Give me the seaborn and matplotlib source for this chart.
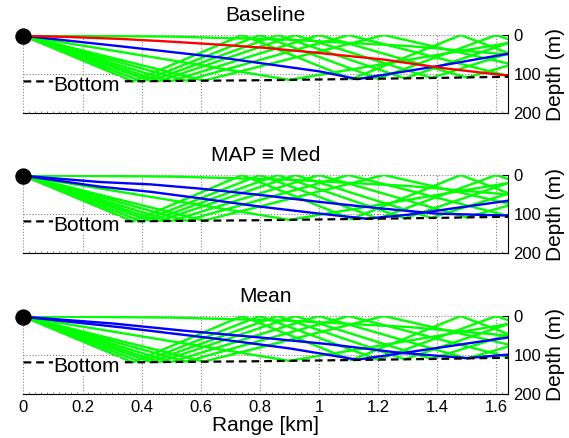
import numpy as np
import pandas as pd
import matplotlib
matplotlib.use("Agg")
import matplotlib.pyplot as plt
from matplotlib.ticker import MultipleLocator, FormatStrFormatter
import seaborn as sns

sns.set_theme(style="white")
plt.rcParams["font.family"] = ["Liberation Sans", "DejaVu Sans"]
plt.rcParams["text.color"] = "black"
plt.rcParams["axes.labelcolor"] = "black"
plt.rcParams["xtick.color"] = "black"
plt.rcParams["ytick.color"] = "black"

# data (range in km, depth in m)
panel_titles = ["Baseline", "MAP \u2261 Med", "Mean"]
range_ticks = [0, 0.2, 0.4, 0.6, 0.8, 1.0, 1.2, 1.4, 1.6]
depth_ticks = [0, 100, 200]

bottom_range = [0, 0.4, 0.8, 1.0, 1.2, 1.4, 1.64]
bottom_depth = [119, 118.5, 116, 114, 112, 110, 107]

source_range = [0]
source_depth = [4]

# green rays: turning points of each ray
green_ranges = [
    [0, 0.37, 0.74, 1.11, 1.48, 1.85],
    [0, 0.40, 0.80, 1.20, 1.60, 2.00],
    [0, 0.43, 0.86, 1.29, 1.72],
    [0, 0.46, 0.92, 1.38, 1.84],
    [0, 0.50, 1.00, 1.50, 2.00],
    [0, 0.55, 1.10, 1.65],
    [0, 0.61, 1.22, 1.83],
    [0, 0.90, 1.80],
    [0, 0.5, 0.9, 1.3, 1.64],
]
green_depths = [
    [2, 119, 0, 113, 0, 107],
    [2, 119, 0, 112, 0, 106],
    [2, 118, 0, 111, 0],
    [2, 118, 0, 110, 0],
    [2, 118, 0, 109, 0],
    [2, 117, 0, 107],
    [2, 117, 0, 106],
    [2, 115, 0],
    [1, 4, 12, 28, 50],
]

red_ranges = [[0, 0.15, 0.33, 0.5, 0.67, 0.82, 1.0, 1.22, 1.42, 1.64]]
red_depths = [[2, 5, 10, 17, 25, 33, 46, 63, 85, 104]]

blue_ranges_baseline = [[0, 0.33, 0.67, 0.82, 1.0, 1.13, 1.4, 1.64]]
blue_depths_baseline = [[2, 29, 58, 74, 93, 113, 80, 48]]

blue_ranges_map = [
    [0, 0.26, 0.43, 0.6, 0.8, 0.99, 1.2, 1.4, 1.64],
    [0, 0.26, 0.43, 0.6, 0.8, 0.99, 1.16, 1.3, 1.45, 1.64],
]
blue_depths_map = [
    [2, 18, 24, 35, 51, 68, 85, 99, 104],
    [2, 30, 43, 60, 81, 98, 112, 102, 86, 66],
]

blue_ranges_mean = [
    [0, 0.3, 0.535, 0.8, 1.03, 1.27, 1.5, 1.64],
    [0, 0.33, 0.66, 0.9, 1.13, 1.4, 1.64],
]
blue_depths_mean = [
    [2, 19, 37, 55, 72, 94, 108, 99],
    [2, 29, 59, 83, 112, 82, 55],
]

panels = [
    (blue_ranges_baseline, blue_depths_baseline, red_ranges, red_depths),
    (blue_ranges_map, blue_depths_map, [], []),
    (blue_ranges_mean, blue_depths_mean, [], []),
]


def rays_frame(ranges, depths):
    rows = []
    for i, (xs, ds) in enumerate(zip(ranges, depths)):
        for x, d in zip(xs, ds):
            rows.append({"ray": i, "range": x, "depth": d})
    return pd.DataFrame(rows, columns=["ray", "range", "depth"])


fig = plt.figure(figsize=(5.69, 4.38), dpi=100)
bottoms = [0.742, 0.4224, 0.1005]
axes = [fig.add_axes([0.0413, b, 0.8515, 0.178]) for b in bottoms]

for k, ax in enumerate(axes):
    blue_r, blue_d, red_r, red_d = panels[k]
    for ranges, depths, col in [(green_ranges, green_depths, "#00ff00"),
                                (blue_r, blue_d, "#0000ff"),
                                (red_r, red_d, "#ff0000")]:
        if not ranges:
            continue
        df = rays_frame(ranges, depths)
        sns.lineplot(data=df, x="range", y="depth", units="ray", estimator=None,
                     sort=False, color=col, lw=1.7, ax=ax, legend=False)

    bt = pd.DataFrame({"range": bottom_range, "depth": bottom_depth})
    sns.lineplot(data=bt, x="range", y="depth", sort=False, color="black",
                 lw=1.6, ax=ax)
    ax.lines[-1].set_dashes((3.5, 2.2))
    ax.text(0.1, 144, "Bottom", fontsize=15, va="baseline", ha="left",
            bbox=dict(facecolor="white", edgecolor="none", pad=0))

    src = pd.DataFrame({"range": source_range, "depth": source_depth})
    sns.scatterplot(data=src, x="range", y="depth", color="black", s=140,
                    edgecolor="none", ax=ax, clip_on=False, zorder=10)

    ax.set_xlim(0, 1.64)
    ax.set_ylim(200, 0)
    ax.set_xticks(range_ticks)
    ax.set_yticks(depth_ticks)
    ax.xaxis.set_minor_locator(MultipleLocator(0.02))
    ax.xaxis.set_major_formatter(FormatStrFormatter("%g"))
    ax.yaxis.tick_right()
    ax.yaxis.set_label_position("right")
    for s in ["top", "left"]:
        ax.spines[s].set_visible(False)
    for s in ["bottom", "right"]:
        ax.spines[s].set_color("black")
        ax.spines[s].set_linewidth(0.8)
    ax.grid(True, which="major", linestyle=":", color="0.5", lw=0.8)
    ax.tick_params(axis="both", which="major", direction="in", length=4,
                   width=0.8, labelsize=12, pad=4, colors="black")
    ax.tick_params(axis="x", which="minor", direction="in", length=1.5,
                   width=0.5, bottom=True, colors="0.3")
    ax.set_ylabel("Depth (m)", fontsize=15, labelpad=3)
    ax.set_title(panel_titles[k], fontsize=15, pad=10)
    if k < 2:
        ax.set_xlabel("")
        ax.tick_params(axis="x", labelbottom=False)
    else:
        ax.set_xlabel("Range [km]", fontsize=15, labelpad=1)

fig.savefig("out.png", dpi=100, facecolor="white")
